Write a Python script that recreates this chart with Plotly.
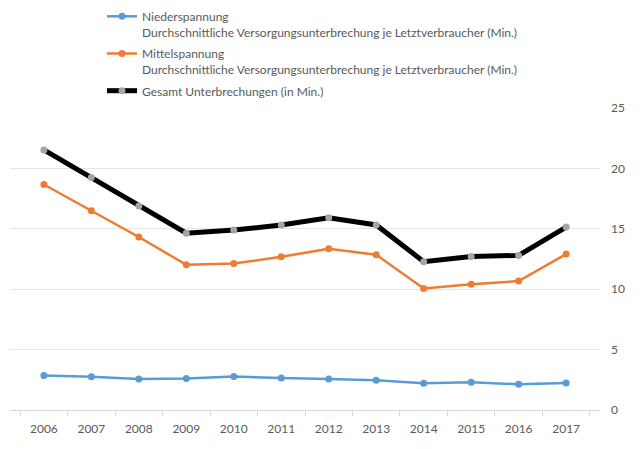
import plotly.graph_objects as go

years = ["2006", "2007", "2008", "2009", "2010", "2011", "2012", "2013", "2014", "2015", "2016", "2017"]
nieder = [2.86, 2.75, 2.57, 2.61, 2.78, 2.64, 2.57, 2.47, 2.22, 2.29, 2.13, 2.23]
mittel = [18.67, 16.50, 14.32, 12.02, 12.12, 12.68, 13.34, 12.85, 10.06, 10.41, 10.67, 12.91]
gesamt = [21.53, 19.25, 16.89, 14.63, 14.90, 15.31, 15.91, 15.32, 12.28, 12.70, 12.80, 15.14]

name_n = "Niederspannung<br>Durchschnittliche Versorgungsunterbrechung je Letztverbraucher (Min.)"
name_m = "Mittelspannung<br>Durchschnittliche Versorgungsunterbrechung je Letztverbraucher (Min.)"
name_g = "Gesamt Unterbrechungen (in Min.)"

FONT = "Lato"
GREY = "#595959"

fig = go.Figure()
fig.add_trace(go.Scatter(x=years, y=nieder, name=name_n, mode="lines+markers",
                         line=dict(color="#5b9bd5", width=2.5),
                         marker=dict(color="#5b9bd5", size=7), legendgroup="a"))
fig.add_trace(go.Scatter(x=years, y=mittel, name=name_m, mode="lines+markers",
                         line=dict(color="#ed7d31", width=2.5),
                         marker=dict(color="#ed7d31", size=7), legendgroup="b"))
fig.add_trace(go.Scatter(x=years, y=gesamt, name=name_g, mode="lines+markers",
                         line=dict(color="#000000", width=5),
                         marker=dict(color="#a5a5a5", size=7), legendgroup="c"))

fig.update_layout(
    width=632, height=441,
    margin=dict(l=2, r=40, t=100, b=39, autoexpand=False),
    paper_bgcolor="white", plot_bgcolor="white",
    font=dict(family=FONT, size=12, color=GREY),
    showlegend=True,
    legend=dict(x=92 / 590, y=1 + 106 / 302, xref="paper", yref="paper",
                xanchor="left", yanchor="top", valign="top",
                font=dict(family=FONT, size=12, color=GREY),
                tracegroupgap=3, itemwidth=30, bgcolor="rgba(0,0,0,0)"),
    xaxis=dict(type="category", showgrid=False, showline=True, linecolor="#d9d9d9",
               linewidth=1, ticks="outside", tickson="boundaries", ticklen=5,
               tickcolor="#d9d9d9", tickfont=dict(family=FONT, size=12, color=GREY),
               ticklabelstandoff=8, fixedrange=True),
    yaxis=dict(range=[0, 25], side="right", dtick=5, showgrid=True, gridcolor="#e6e6e6",
               gridwidth=1, zeroline=False, showline=False, ticks="",
               tickfont=dict(family=FONT, size=12, color=GREY), ticklabelstandoff=10,
               fixedrange=True),
)

fig.write_html("out.html")
